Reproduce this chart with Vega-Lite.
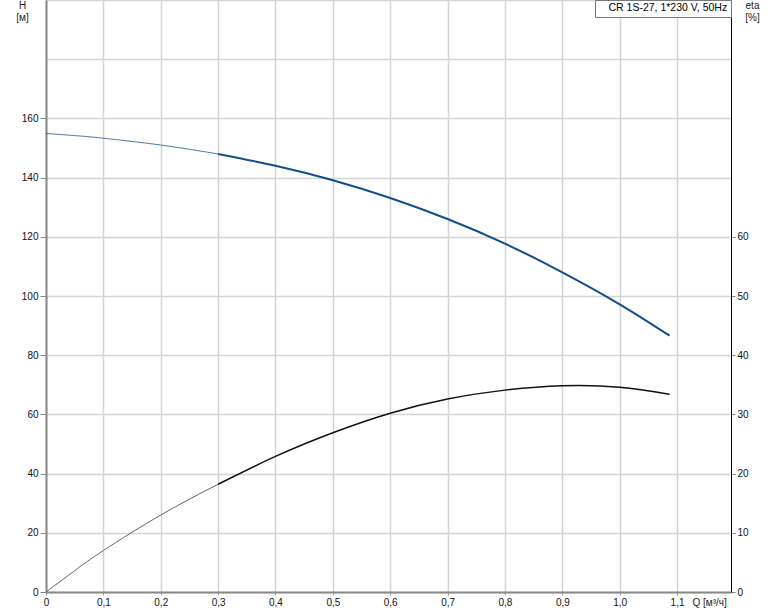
{
  "$schema": "https://vega.github.io/schema/vega-lite/v6.json",
  "width": 685,
  "height": 592,
  "autosize": {"type": "none"},
  "padding": {"left": 46, "top": 0, "right": 43, "bottom": 19},
  "background": "#ffffff",
  "config": {
    "view": {"stroke": null},
    "font": "Liberation Sans",
    "axis": {"labelFont": "Liberation Sans", "titleFont": "Liberation Sans", "labelFontSize": 10, "titleFontSize": 10, "labelColor": "#111", "titleColor": "#222", "titleFontWeight": "normal"}
  },
  "data": {
    "values": [
      {"q": 0.0, "H": 154.9, "eta": 0.0},
      {"q": 0.05, "H": 154.2, "eta": 3.6},
      {"q": 0.1, "H": 153.3, "eta": 7.0},
      {"q": 0.2, "H": 151.0, "eta": 13.0},
      {"q": 0.3, "H": 148.0, "eta": 18.2},
      {"q": 0.4, "H": 144.0, "eta": 22.9},
      {"q": 0.5, "H": 139.1, "eta": 26.9},
      {"q": 0.6, "H": 133.1, "eta": 30.2},
      {"q": 0.7, "H": 126.0, "eta": 32.6},
      {"q": 0.8, "H": 117.7, "eta": 34.1},
      {"q": 0.9, "H": 108.0, "eta": 34.85},
      {"q": 1.0, "H": 97.2, "eta": 34.6},
      {"q": 1.087, "H": 86.6, "eta": 33.4}
    ]
  },
  "encoding": {
    "x": {
      "field": "q",
      "type": "quantitative",
      "scale": {"domain": [0, 1.194], "nice": false, "zero": false},
      "axis": {
        "values": [0, 0.1, 0.2, 0.3, 0.4, 0.5, 0.6, 0.7, 0.8, 0.9, 1.0, 1.1],
        "labelExpr": "datum.value == 0 ? '0' : replace(format(datum.value, '.1f'), '.', ',')",
        "grid": true,
        "gridColor": "#d3d3d3",
        "gridWidth": 1.5,
        "ticks": true,
        "tickSize": 3,
        "tickColor": "#999999",
        "domainColor": "#888888",
        "domainWidth": 2,
        "labelPadding": 2,
        "labelFlush": false,
        "title": "Q [м³/ч]",
        "titleAlign": "left",
        "titleBaseline": "top",
        "titleX": 646,
        "titleY": 5,
        "titleFontSize": 10
      }
    }
  },
  "layer": [
    {
      "encoding": {
        "y": {
          "field": "H",
          "type": "quantitative",
          "scale": {"domain": [0, 200], "nice": false},
          "axis": {
            "values": [0, 20, 40, 60, 80, 100, 120, 140, 160, 180, 200],
            "labelExpr": "datum.value <= 160 ? datum.label : ''",
            "grid": true,
            "gridColor": "#d3d3d3",
            "gridWidth": 1.5,
            "tickSize": 6,
            "tickColor": "#888888",
            "tickOpacity": {"condition": {"test": "datum.value <= 160", "value": 1}, "value": 0},
            "domainColor": "#888888",
            "domainWidth": 2,
            "labelPadding": 2,
            "title": ["H", "[м]"],
            "titleAngle": 0,
            "titleAlign": "center",
            "titleBaseline": "top",
            "titleX": -24,
            "titleY": 0,
            "titleLineHeight": 12
          }
        },
        "color": {
          "datum": "CR 1S-27, 1*230 V, 50Hz",
          "type": "nominal",
          "scale": {"range": ["#134d8b"]},
          "legend": {
            "title": null,
            "orient": "top-right",
            "offset": 0,
            "symbolOpacity": 0,
            "symbolSize": 0,
            "symbolStrokeWidth": 0,
            "labelOffset": 0,
            "labelFont": "Liberation Sans",
            "labelFontSize": 10.5,
            "labelColor": "#000",
            "labelLimit": 300,
            "strokeColor": "#777777",
            "fillColor": "#ffffff",
            "padding": 3
          }
        }
      },
      "layer": [
        {
          "transform": [{"filter": "datum.q <= 0.3"}],
          "mark": {"type": "line", "interpolate": "natural", "strokeWidth": 1, "opacity": 0.75}
        },
        {
          "transform": [{"filter": "datum.q >= 0.3"}],
          "mark": {"type": "line", "interpolate": "natural", "strokeWidth": 2}
        }
      ]
    },
    {
      "encoding": {
        "y": {
          "field": "eta",
          "type": "quantitative",
          "scale": {"domain": [0, 100], "nice": false},
          "axis": {
            "orient": "right",
            "values": [0, 10, 20, 30, 40, 50, 60],
            "grid": false,
            "domainColor": "#000000",
            "domainWidth": 1,
            "tickSize": 4,
            "tickColor": "#888888",
            "labelPadding": 2,
            "title": ["eta", "[%]"],
            "titleAngle": 0,
            "titleAlign": "center",
            "titleBaseline": "top",
            "titleX": 21,
            "titleY": 0,
            "titleLineHeight": 12
          }
        }
      },
      "layer": [
        {
          "transform": [{"filter": "datum.q <= 0.3"}],
          "mark": {"type": "line", "interpolate": "natural", "strokeWidth": 1, "color": "#666666"}
        },
        {
          "transform": [{"filter": "datum.q >= 0.3"}],
          "mark": {"type": "line", "interpolate": "natural", "strokeWidth": 1.5, "color": "#111111"}
        }
      ]
    }
  ],
  "resolve": {"scale": {"y": "independent"}}
}
